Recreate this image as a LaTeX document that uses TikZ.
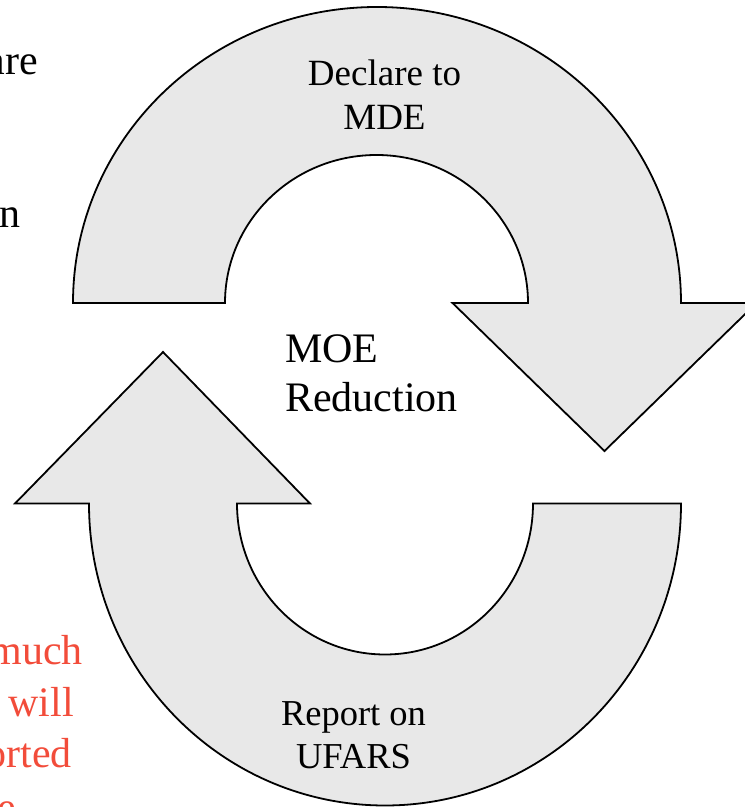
\documentclass[tikz,border=0pt]{standalone}
\usepackage{fontspec}
\setmainfont{Liberation Serif}
\definecolor{arrowfill}{RGB}{232,232,232}
\definecolor{redtext}{RGB}{242,76,58}
\begin{document}
\begin{tikzpicture}[x=1pt,y=1pt,
  cyclearrow/.style={draw=black,fill=arrowfill,line width=1.8pt,line join=miter},
  lbl/.style={inner sep=0pt,anchor=base},
  side/.style={inner sep=0pt,anchor=base east},
  redlbl/.style={side,text=redtext}]
\useasboundingbox (0,0) rectangle (745,807);
% partial side texts
\node[side,font=\fontsize{42}{50}\selectfont] (t1) at (38,732) {are};
\node[side,font=\fontsize{42}{50}\selectfont] (t2) at (21,579) {n};
\node[redlbl,font=\fontsize{42}{50}\selectfont] (r1) at (83,142) {much};
\node[redlbl,font=\fontsize{42}{50}\selectfont] (r2) at (74,90) {will};
\node[redlbl,font=\fontsize{42}{50}\selectfont] (r3) at (72,39) {orted};
\node[redlbl,font=\fontsize{42}{50}\selectfont] (r4) at (16,-15) {e};
% top arrow
\draw[cyclearrow] (73,504) arc[start angle=180,end angle=0,x radius=304,y radius=296]
  -- (756.5,504) -- (604.5,356) -- (452.5,504) -- (528,504)
  arc[start angle=0,end angle=180,x radius=151.5,y radius=148] -- cycle;
% bottom arrow
\draw[cyclearrow] (89,303.5) arc[start angle=180,end angle=360,x radius=296,y radius=302]
  -- (533,303.5) arc[start angle=360,end angle=180,x radius=148,y radius=151]
  -- (310,303.5) -- (163,455) -- (15,303.5) -- cycle;
% labels
\node[lbl,font=\fontsize{37}{44}\selectfont] (d1) at (384.5,721) {Declare to};
\node[lbl,font=\fontsize{37}{44}\selectfont] (d2) at (384.5,677) {MDE};
\node[lbl,anchor=base west,font=\fontsize{42}{50}\selectfont] (m1) at (285,444) {MOE};
\node[lbl,anchor=base west,font=\fontsize{42}{50}\selectfont] (m2) at (285,395) {Reduction};
\node[lbl,font=\fontsize{36.5}{43}\selectfont] (u1) at (353.5,81) {Report on};
\node[lbl,font=\fontsize{36.5}{43}\selectfont] (u2) at (353.5,38) {UFARS};
\end{tikzpicture}
\end{document}
